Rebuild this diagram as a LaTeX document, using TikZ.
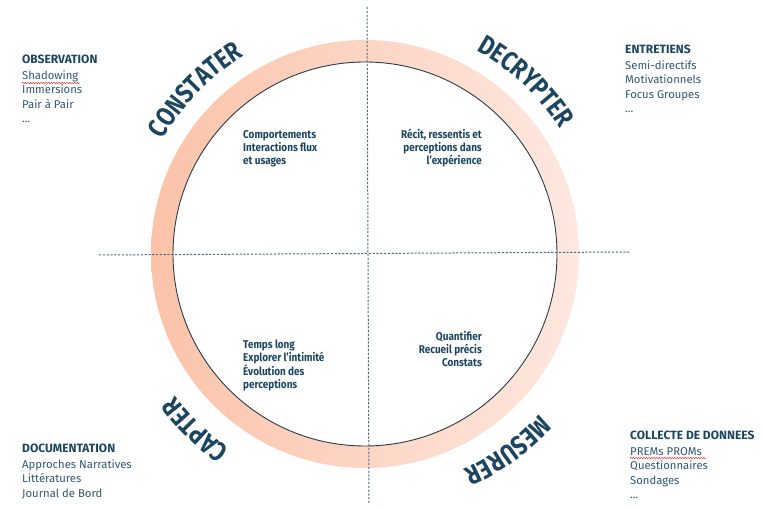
\documentclass[tikz,border=0pt]{standalone}
\usepackage{fontspec}
\setmainfont{Fira Sans}
\newfontfamily\arcfont{Fira Sans}[FakeStretch=0.82]
\newfontfamily\condfont{Fira Sans}[FakeStretch=0.88]
\usetikzlibrary{decorations.text,decorations.pathmorphing,calc}
\definecolor{dk}{HTML}{1C4660}
\definecolor{bd}{HTML}{2F5774}
\definecolor{ringL}{HTML}{FBC3A9}
\definecolor{ringR}{HTML}{FEE8E0}
\definecolor{dashc}{HTML}{4B6B80}
\definecolor{circc}{HTML}{2A3B47}
\tikzset{
  sideblock/.style={inner sep=0pt, align=left, text=bd, font=\fontsize{11.3}{14.5}\selectfont},
  quadl/.style={inner sep=0pt, align=left, text=dk, font=\condfont\bfseries\fontsize{11.3}{13}\selectfont},
  quadr/.style={inner sep=0pt, align=right, text=dk, font=\condfont\bfseries\fontsize{11.3}{13}\selectfont},
  axisline/.style={dashc, line width=1pt, dash pattern=on 2.2pt off 1.6pt},
  squiggle/.style={red!85, line width=0.45pt, decorate, decoration={snake, amplitude=0.7pt, segment length=2.6pt}},
  arclabel/.style={decorate, decoration={text along path, text align=center, text={|\color{dk}\arcfont\bfseries\fontsize{27}{27}\selectfont|#1}}}
}
\newcommand{\ttl}[1]{{\bfseries\color{dk}\fontsize{12}{14.5}\selectfont #1}}
\begin{document}
\begin{tikzpicture}[x=1pt,y=1pt]
\useasboundingbox (0,0) rectangle (764,509);
\coordinate (c) at (365,255);
% ring
\shade[left color=ringL, right color=ringR, even odd rule] (c) circle (214pt) (c) circle (192pt);
\draw[circc, line width=0.9pt] (c) circle (192pt);
% axes
\coordinate (vtop) at (367,502);
\coordinate (vbot) at (369,6);
\coordinate (hl) at (99,254);
\coordinate (hr) at (630,257);
\draw[axisline] (vtop) -- (vbot);
\draw[axisline] (hl) -- (hr);
% arc labels
\path[arclabel=CONSTATER] ($(c)+(166:232pt)$) arc[start angle=166, end angle=106, radius=232pt];
\path[arclabel=DECRYPTER] ($(c)+(77:232pt)$) arc[start angle=77, end angle=17, radius=232pt];
\path[arclabel=CAPTER] ($(c)+(256:237pt)$) arc[start angle=256, end angle=196, radius=237pt];
\path[arclabel=MESURER] ($(c)+(336:237pt)$) arc[start angle=336, end angle=276, radius=237pt];
% quadrant texts (anchored at the baseline of their last line)
\node[quadl, anchor=base west] (q1) at (243,344) {Comportements\\Interactions flux\\et usages};
\node[quadr, anchor=base east] (q2) at (482,344) {Récit, ressentis et\\perceptions dans\\l’expérience};
\node[quadl, anchor=base west] (q3) at (243,120) {Temps long\\Explorer l’intimité\\Évolution des\\perceptions};
\node[quadr, anchor=base east] (q4) at (482,142) {Quantifier\\Recueil précis\\Constats};
% side blocks (anchored at the baseline of their last line)
\node[sideblock, anchor=base west] (obs) at (22,386) {\ttl{OBSERVATION}\\[1pt]Shadowing\\Immersions\\Pair à Pair\\...};
\node[sideblock, anchor=base west] (ent) at (625,396) {\ttl{ENTRETIENS}\\[1pt]Semi-directifs\\Motivationnels\\Focus Groupes\\...};
\node[sideblock, anchor=base west] (doc) at (22,11.5) {\ttl{DOCUMENTATION}\\[1pt]Approches Narratives\\Littératures\\Journal de Bord};
\node[sideblock, anchor=base west] (col) at (630,10) {\ttl{COLLECTE DE DONNEES}\\[1pt]PREMs PROMs\\Questionnaires\\Sondages\\...};
% spell-check squiggles
\coordinate (s1a) at (22,426);
\coordinate (s1b) at (80,426);
\coordinate (s2a) at (630,51);
\coordinate (s2b) at (707,51);
\draw[squiggle] (s1a) -- (s1b);
\draw[squiggle] (s2a) -- (s2b);
\end{tikzpicture}
\end{document}
